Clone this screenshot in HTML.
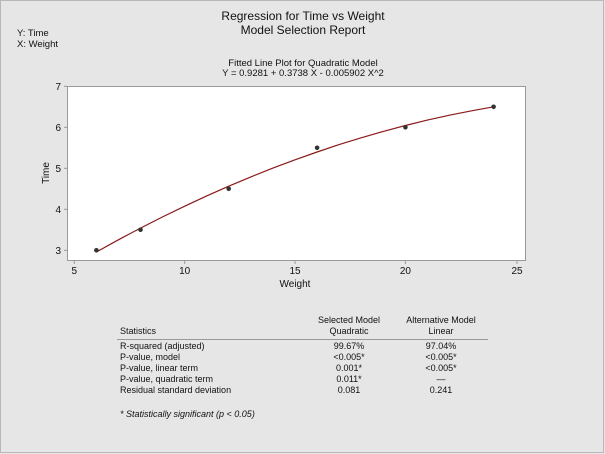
<!DOCTYPE html>
<html><head><meta charset="utf-8"><style>
html,body{margin:0;padding:0;background:#e6e6e6;}
svg{display:block;font-family:"Liberation Sans",sans-serif;}
</style></head><body>
<svg width="605" height="454" viewBox="0 0 605 454" xmlns="http://www.w3.org/2000/svg">
<rect x="0.5" y="0.5" width="603" height="452" fill="#e6e6e6" stroke="#b8b8b8"/>
<g fill="#111" text-anchor="middle">
<text x="303" y="20" font-size="12">Regression for Time vs Weight</text>
<text x="303" y="34" font-size="12">Model Selection Report</text>
<text x="303" y="66" font-size="9.5">Fitted Line Plot for Quadratic Model</text>
<text x="303" y="76" font-size="9.5">Y = 0.9281 + 0.3738 X - 0.005902 X^2</text>
</g>
<text x="17" y="36" font-size="9.5" fill="#111">Y: Time</text>
<text x="17" y="47" font-size="9.5" fill="#111">X: Weight</text>
<rect x="67.5" y="86.5" width="458" height="174" fill="#fff" stroke="#999"/>
<g stroke="#999">
<line x1="74.3" y1="261" x2="74.3" y2="264"/><line x1="184.7" y1="261" x2="184.7" y2="264"/><line x1="295" y1="261" x2="295" y2="264"/><line x1="405.4" y1="261" x2="405.4" y2="264"/><line x1="517" y1="261" x2="517" y2="264"/>
<line x1="64" y1="86.3" x2="67" y2="86.3"/><line x1="64" y1="127.3" x2="67" y2="127.3"/><line x1="64" y1="168.3" x2="67" y2="168.3"/><line x1="64" y1="209.3" x2="67" y2="209.3"/><line x1="64" y1="250.3" x2="67" y2="250.3"/>
</g>
<g font-size="10" fill="#111" text-anchor="middle">
<text x="74.3" y="274">5</text><text x="184.7" y="274">10</text><text x="295" y="274">15</text><text x="405.4" y="274">20</text><text x="517" y="274">25</text>
</g>
<g font-size="10" fill="#111" text-anchor="end">
<text x="61" y="90">7</text><text x="61" y="131">6</text><text x="61" y="172">5</text><text x="61" y="213">4</text><text x="61" y="254">3</text>
</g>
<text x="295" y="287" font-size="10" fill="#111" text-anchor="middle">Weight</text>
<text transform="translate(49,173) rotate(-90)" font-size="10" fill="#111" text-anchor="middle">Time</text>
<polyline fill="none" stroke="#8b1a1a" stroke-width="1.2" points="96.4,252.0 118.4,239.8 140.5,228.1 162.6,216.9 184.7,206.2 206.7,195.9 228.7,186.2 250.9,176.9 272.9,168.1 295,159.8 317.1,152.0 339.1,144.6 361.2,137.8 383.3,131.4 405.4,125.5 427.4,120.1 449.5,115.2 471.6,110.8 493.6,106.8"/>
<g fill="#333">
<circle cx="96.4" cy="250.3" r="2.3"/><circle cx="140.5" cy="229.8" r="2.3"/><circle cx="228.7" cy="188.8" r="2.3"/><circle cx="317.1" cy="147.8" r="2.3"/><circle cx="405.4" cy="127.3" r="2.3"/><circle cx="493.6" cy="106.8" r="2.3"/>
</g>
<g font-size="9" fill="#111">
<text x="120" y="334">Statistics</text>
<text x="349" y="323" text-anchor="middle">Selected Model</text>
<text x="349" y="334" text-anchor="middle">Quadratic</text>
<text x="441" y="323" text-anchor="middle">Alternative Model</text>
<text x="441" y="334" text-anchor="middle">Linear</text>
<line x1="117" y1="339.5" x2="488" y2="339.5" stroke="#999"/>
<text x="120" y="349">R-squared (adjusted)</text>
<text x="120" y="360">P-value, model</text>
<text x="120" y="371">P-value, linear term</text>
<text x="120" y="382">P-value, quadratic term</text>
<text x="120" y="393">Residual standard deviation</text>
<g text-anchor="middle">
<text x="349" y="349">99.67%</text><text x="441" y="349">97.04%</text>
<text x="349" y="360">&lt;0.005*</text><text x="441" y="360">&lt;0.005*</text>
<text x="349" y="371">0.001*</text><text x="441" y="371">&lt;0.005*</text>
<text x="349" y="382">0.011*</text><text x="441" y="382">—</text>
<text x="349" y="393">0.081</text><text x="441" y="393">0.241</text>
</g>
<text x="120" y="417" font-style="italic">* Statistically significant (p &lt; 0.05)</text>
</g>
</svg>
</body></html>
